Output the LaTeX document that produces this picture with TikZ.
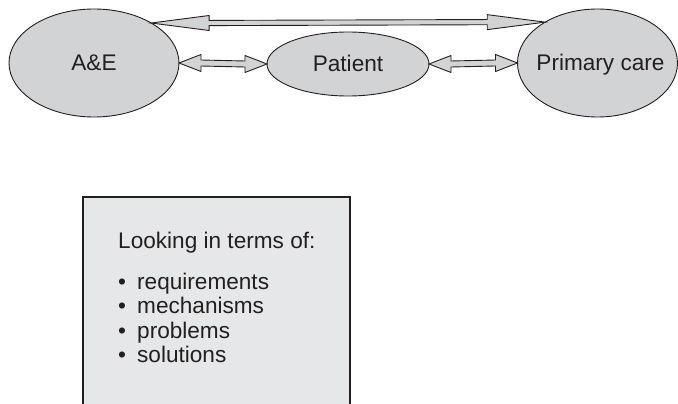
\documentclass[tikz,border=0pt]{standalone}
\usepackage{fontspec}
\setmainfont{Liberation Sans}
\usetikzlibrary{shapes.geometric,calc}

\definecolor{inkc}{HTML}{231F20}
\definecolor{ovalfill}{HTML}{D2D3D5}
\definecolor{panelfill}{HTML}{E6E7E8}

% Outlined double-headed block arrow between two points:
% #1 start, #2 end, #3 shaft half-width, #4 head length, #5 head half-width (all pt)
\newcommand\blockarrow[5]{%
  \draw[blockarr] let \p1=(#1), \p2=(#2) in
    (\x1,\y1) -- (\x1+#4pt,\y1+#5pt) -- (\x1+#4pt,\y1+#3pt)
    -- (\x2-#4pt,\y2+#3pt) -- (\x2-#4pt,\y2+#5pt) -- (\x2,\y2)
    -- (\x2-#4pt,\y2-#5pt) -- (\x2-#4pt,\y2-#3pt)
    -- (\x1+#4pt,\y1-#3pt) -- (\x1+#4pt,\y1-#5pt) -- cycle;}

\begin{document}
\begin{tikzpicture}[x=1pt,y=-1pt,
  oval/.style={ellipse, draw=inkc, fill=ovalfill, line width=0.9pt,
    inner sep=0pt, outer sep=0pt},
  ovaltext/.style={font=\fontsize{22.6}{27}\selectfont, text=inkc,
    inner sep=0pt, text height=16pt, text depth=0pt},
  blockarr/.style={draw=inkc, fill=ovalfill, line width=0.9pt, line join=miter},
  panel/.style={rectangle, draw=inkc, fill=panelfill, line width=1.2pt,
    inner sep=0pt, outer sep=0pt},
  listline/.style={font=\fontsize{22.6}{27}\selectfont, text=inkc,
    inner sep=0pt, anchor=base west}]
\useasboundingbox (0,0) rectangle (678,404);

% the three parties
\node[oval, minimum width=170pt, minimum height=108pt,
  label={[ovaltext]center:A\&E}] (ae) at (94,63) {};
\node[oval, minimum width=162pt, minimum height=64pt,
  label={[ovaltext]center:Patient}] (pat) at (348,64) {};
\node[oval, minimum width=160pt, minimum height=108pt,
  label={[ovaltext, xshift=3pt]center:Primary care}] (pc) at (597.5,63) {};

% two-way links
\blockarrow{ae.35.8}{pc.142.56}{2.6}{58}{7.5}
\blockarrow{ae.east}{pat.west}{3}{22}{8.5}
\blockarrow{pat.east}{pc.west}{3}{22}{8.5}

% panel with the list of viewpoints
\node[panel, anchor=north west, minimum width=267pt, minimum height=240pt]
  (terms) at (83,197) {};
\node[listline] (head) at (118,248) {Looking in terms of:};
\node[listline] (req) at (118,289) {\makebox[19pt][l]{•}requirements};
\node[listline] (mech) at (118,313.5) {\makebox[19pt][l]{•}mechanisms};
\node[listline] (prob) at (118,338) {\makebox[19pt][l]{•}problems};
\node[listline] (sol) at (118,362.5) {\makebox[19pt][l]{•}solutions};
\end{tikzpicture}
\end{document}
